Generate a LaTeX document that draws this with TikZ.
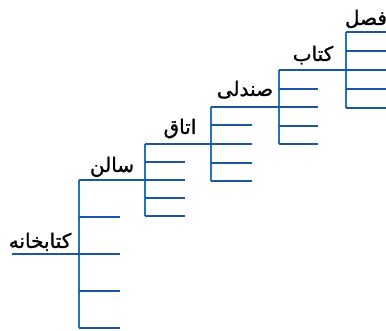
\documentclass[tikz,border=0pt]{standalone}
\usepackage{fontspec}
\newfontfamily\arabicfont[Script=Arabic,FakeBold=1.2]{DejaVu Sans}
\TeXXeTstate=1
\definecolor{stemblue}{RGB}{35,115,195}
\definecolor{twigblue}{RGB}{28,85,165}
\begin{document}
\begin{tikzpicture}[x=1pt,y=-1pt,
  stem/.style={stemblue,line width=1.8pt},
  twig/.style={twigblue,line width=1.7pt},
  lbl/.style={font=\arabicfont\fontsize{20}{24}\selectfont,anchor=base,inner sep=0pt,text=black}]
\useasboundingbox (0,0) rectangle (386,331);
% each level: index / stem x / branch end x / branch heights
\foreach \i/\x/\e/\ys in {1/79/120/{180,217,254,291,328},
                          2/145/185/{144,162,180,198,216},
                          3/211/252/{107,125,144,163,181},
                          4/279/318/{70,89,107,126,144},
                          5/346/386/{32,51,70,89,108}}{
  \foreach \y [count=\k] in \ys{
    \coordinate (L\i-\k) at (\x,\y);
    \coordinate (E\i-\k) at (\e,\y);
  }
  \draw[stem] (L\i-1) -- (L\i-5);
  \foreach \k in {2,4,5}{ \draw[twig] (L\i-\k) -- (E\i-\k); }
}
% links: top of one level runs into the middle branch of the next
\foreach \i/\j in {1/2,2/3,3/4,4/5}{
  \draw[twig] (L\i-1) -- (L\j-3) -- (E\j-3);
}
\coordinate (root) at (12,254);
\draw[twig] (root) -- (L1-3) -- (E1-3);
\draw[twig] (L5-1) -- (E5-1);
% labels
\node[lbl] (kitabkhane) at (40,248) {\beginR کتابخانه\endR};
\node[lbl] (salon) at (112,172) {\beginR سالن\endR};
\node[lbl] (otagh) at (180,134) {\beginR اتاق\endR};
\node[lbl] (sandali) at (245,96) {\beginR صندلی\endR};
\node[lbl] (ketab) at (313,61) {\beginR کتاب\endR};
\node[lbl] (fasl) at (366,25) {\beginR فصل\endR};
\end{tikzpicture}
\end{document}
